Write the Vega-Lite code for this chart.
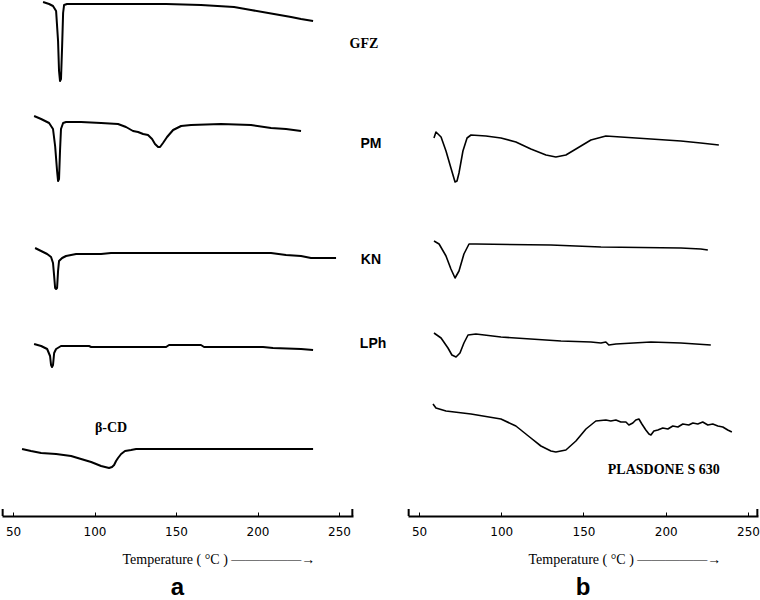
{
  "$schema": "https://vega.github.io/schema/vega-lite/v6.json",
  "background": "white",
  "padding": {"left": 1, "top": 0, "right": 0, "bottom": 0},
  "bounds": "flush",
  "spacing": 55,
  "config": {
    "view": {"stroke": null},
    "axisX": {
      "domainColor": "black", "domainWidth": 2,
      "tickColor": "black", "tickSize": -4, "tickWidth": 1,
      "labelFont": "DejaVu Sans", "labelFontSize": 12, "labelColor": "black", "labelPadding": 14,
      "grid": false,
      "titleFont": "Liberation Serif", "titleFontSize": 14, "titleFontWeight": "normal", "titleColor": "black",
      "titleAnchor": "start", "titleAlign": "left", "titleX": 120, "titleY": 47, "titleBaseline": "alphabetic"
    },
    "title": {"font": "Liberation Sans", "fontSize": 24, "fontWeight": "bold", "color": "black", "orient": "bottom", "anchor": "middle", "offset": 10}
  },
  "datasets": {
    "curves": [
      {"p":"a","s":"GFZ","T":68.4,"hf":514},{"p":"a","s":"GFZ","T":72.1,"hf":512},{"p":"a","s":"GFZ","T":74.5,"hf":510},{"p":"a","s":"GFZ","T":76.4,"hf":505},{"p":"a","s":"GFZ","T":77.6,"hf":475},{"p":"a","s":"GFZ","T":78.2,"hf":445},{"p":"a","s":"GFZ","T":78.8,"hf":435},{"p":"a","s":"GFZ","T":79.4,"hf":437},{"p":"a","s":"GFZ","T":80.1,"hf":470},{"p":"a","s":"GFZ","T":80.7,"hf":503},{"p":"a","s":"GFZ","T":81.3,"hf":511},{"p":"a","s":"GFZ","T":83.1,"hf":512},{"p":"a","s":"GFZ","T":104.0,"hf":512},{"p":"a","s":"GFZ","T":143.9,"hf":512},{"p":"a","s":"GFZ","T":165.3,"hf":511},{"p":"a","s":"GFZ","T":185.6,"hf":509},{"p":"a","s":"GFZ","T":196.0,"hf":506},{"p":"a","s":"GFZ","T":210.1,"hf":502},{"p":"a","s":"GFZ","T":220.6,"hf":499},{"p":"a","s":"GFZ","T":226.7,"hf":497},{"p":"a","s":"GFZ","T":234.1,"hf":495},

      {"p":"a","s":"PM","T":62.9,"hf":400},{"p":"a","s":"PM","T":67.2,"hf":397},{"p":"a","s":"PM","T":72.1,"hf":393},{"p":"a","s":"PM","T":74.5,"hf":387},{"p":"a","s":"PM","T":75.8,"hf":370},{"p":"a","s":"PM","T":77.0,"hf":345},{"p":"a","s":"PM","T":77.6,"hf":335},{"p":"a","s":"PM","T":78.2,"hf":337},{"p":"a","s":"PM","T":78.8,"hf":365},{"p":"a","s":"PM","T":79.4,"hf":387},{"p":"a","s":"PM","T":80.7,"hf":393},{"p":"a","s":"PM","T":82.5,"hf":394},{"p":"a","s":"PM","T":91.7,"hf":394},{"p":"a","s":"PM","T":104.0,"hf":393},{"p":"a","s":"PM","T":114.4,"hf":392},{"p":"a","s":"PM","T":119.3,"hf":389},{"p":"a","s":"PM","T":123.6,"hf":385},{"p":"a","s":"PM","T":126.7,"hf":384},{"p":"a","s":"PM","T":129.8,"hf":382},{"p":"a","s":"PM","T":132.8,"hf":381},{"p":"a","s":"PM","T":135.3,"hf":377},{"p":"a","s":"PM","T":137.1,"hf":372},{"p":"a","s":"PM","T":139.0,"hf":369},{"p":"a","s":"PM","T":140.2,"hf":369},{"p":"a","s":"PM","T":142.0,"hf":373},{"p":"a","s":"PM","T":144.5,"hf":379},{"p":"a","s":"PM","T":148.2,"hf":386},{"p":"a","s":"PM","T":153.1,"hf":390},{"p":"a","s":"PM","T":159.2,"hf":391},{"p":"a","s":"PM","T":177.6,"hf":392},{"p":"a","s":"PM","T":196.0,"hf":391},{"p":"a","s":"PM","T":208.3,"hf":388},{"p":"a","s":"PM","T":217.5,"hf":387},{"p":"a","s":"PM","T":226.7,"hf":385},

      {"p":"a","s":"KN","T":63.5,"hf":268},{"p":"a","s":"KN","T":67.2,"hf":265},{"p":"a","s":"KN","T":70.9,"hf":262},{"p":"a","s":"KN","T":73.3,"hf":259},{"p":"a","s":"KN","T":74.5,"hf":253},{"p":"a","s":"KN","T":75.2,"hf":240},{"p":"a","s":"KN","T":75.8,"hf":228},{"p":"a","s":"KN","T":76.4,"hf":227},{"p":"a","s":"KN","T":77.0,"hf":228},{"p":"a","s":"KN","T":77.6,"hf":245},{"p":"a","s":"KN","T":78.2,"hf":255},{"p":"a","s":"KN","T":80.1,"hf":258},{"p":"a","s":"KN","T":82.5,"hf":260},{"p":"a","s":"KN","T":88.7,"hf":262},{"p":"a","s":"KN","T":104.0,"hf":262},{"p":"a","s":"KN","T":110.1,"hf":263},{"p":"a","s":"KN","T":165.3,"hf":263},{"p":"a","s":"KN","T":208.3,"hf":263},{"p":"a","s":"KN","T":217.5,"hf":261},{"p":"a","s":"KN","T":226.7,"hf":260},{"p":"a","s":"KN","T":232.8,"hf":258},{"p":"a","s":"KN","T":248.2,"hf":258},

      {"p":"a","s":"LPh","T":62.9,"hf":172},{"p":"a","s":"LPh","T":67.2,"hf":170},{"p":"a","s":"LPh","T":70.9,"hf":167},{"p":"a","s":"LPh","T":72.7,"hf":160},{"p":"a","s":"LPh","T":73.3,"hf":151},{"p":"a","s":"LPh","T":73.9,"hf":149},{"p":"a","s":"LPh","T":74.5,"hf":151},{"p":"a","s":"LPh","T":75.2,"hf":163},{"p":"a","s":"LPh","T":76.4,"hf":167},{"p":"a","s":"LPh","T":79.4,"hf":170},{"p":"a","s":"LPh","T":96.6,"hf":170},{"p":"a","s":"LPh","T":97.9,"hf":169},{"p":"a","s":"LPh","T":143.9,"hf":169},{"p":"a","s":"LPh","T":145.7,"hf":171},{"p":"a","s":"LPh","T":165.3,"hf":171},{"p":"a","s":"LPh","T":167.2,"hf":169},{"p":"a","s":"LPh","T":203.4,"hf":169},{"p":"a","s":"LPh","T":209.5,"hf":168},{"p":"a","s":"LPh","T":226.7,"hf":167},{"p":"a","s":"LPh","T":234.1,"hf":166},

      {"p":"a","s":"β-CD","T":55.5,"hf":67},{"p":"a","s":"β-CD","T":61.0,"hf":65},{"p":"a","s":"β-CD","T":67.2,"hf":63},{"p":"a","s":"β-CD","T":76.4,"hf":62},{"p":"a","s":"β-CD","T":85.6,"hf":60},{"p":"a","s":"β-CD","T":91.7,"hf":57},{"p":"a","s":"β-CD","T":97.9,"hf":54},{"p":"a","s":"β-CD","T":104.0,"hf":50},{"p":"a","s":"β-CD","T":108.9,"hf":48},{"p":"a","s":"β-CD","T":110.7,"hf":49},{"p":"a","s":"β-CD","T":112.0,"hf":51},{"p":"a","s":"β-CD","T":113.2,"hf":55},{"p":"a","s":"β-CD","T":114.4,"hf":58},{"p":"a","s":"β-CD","T":116.3,"hf":62},{"p":"a","s":"β-CD","T":118.7,"hf":65},{"p":"a","s":"β-CD","T":122.4,"hf":66},{"p":"a","s":"β-CD","T":125.5,"hf":67},{"p":"a","s":"β-CD","T":165.3,"hf":67},{"p":"a","s":"β-CD","T":234.1,"hf":67},

      {"p":"b","s":"PM","T":59.1,"hf":378},{"p":"b","s":"PM","T":60.3,"hf":384},{"p":"b","s":"PM","T":63.4,"hf":379},{"p":"b","s":"PM","T":66.4,"hf":365},{"p":"b","s":"PM","T":69.4,"hf":348},{"p":"b","s":"PM","T":71.9,"hf":334},{"p":"b","s":"PM","T":73.1,"hf":335},{"p":"b","s":"PM","T":74.3,"hf":343},{"p":"b","s":"PM","T":76.7,"hf":365},{"p":"b","s":"PM","T":79.2,"hf":378},{"p":"b","s":"PM","T":81.6,"hf":381},{"p":"b","s":"PM","T":90.7,"hf":380},{"p":"b","s":"PM","T":99.8,"hf":378},{"p":"b","s":"PM","T":108.9,"hf":374},{"p":"b","s":"PM","T":118.0,"hf":367},{"p":"b","s":"PM","T":127.2,"hf":361},{"p":"b","s":"PM","T":133.2,"hf":359},{"p":"b","s":"PM","T":139.3,"hf":361},{"p":"b","s":"PM","T":145.4,"hf":367},{"p":"b","s":"PM","T":154.5,"hf":376},{"p":"b","s":"PM","T":163.6,"hf":380},{"p":"b","s":"PM","T":172.7,"hf":379},{"p":"b","s":"PM","T":191.0,"hf":377},{"p":"b","s":"PM","T":209.2,"hf":375},{"p":"b","s":"PM","T":221.3,"hf":373},{"p":"b","s":"PM","T":232.3,"hf":371},

      {"p":"b","s":"KN","T":59.1,"hf":275},{"p":"b","s":"KN","T":62.2,"hf":272},{"p":"b","s":"KN","T":66.4,"hf":260},{"p":"b","s":"KN","T":69.4,"hf":247},{"p":"b","s":"KN","T":71.9,"hf":238},{"p":"b","s":"KN","T":74.3,"hf":245},{"p":"b","s":"KN","T":77.3,"hf":262},{"p":"b","s":"KN","T":80.4,"hf":272},{"p":"b","s":"KN","T":84.6,"hf":272},{"p":"b","s":"KN","T":130.2,"hf":271},{"p":"b","s":"KN","T":160.6,"hf":269},{"p":"b","s":"KN","T":209.2,"hf":268},{"p":"b","s":"KN","T":221.3,"hf":267},{"p":"b","s":"KN","T":225.6,"hf":266},

      {"p":"b","s":"LPh","T":59.1,"hf":183},{"p":"b","s":"LPh","T":63.4,"hf":178},{"p":"b","s":"LPh","T":67.6,"hf":168},{"p":"b","s":"LPh","T":70.0,"hf":161},{"p":"b","s":"LPh","T":72.5,"hf":159},{"p":"b","s":"LPh","T":74.9,"hf":163},{"p":"b","s":"LPh","T":77.3,"hf":173},{"p":"b","s":"LPh","T":79.8,"hf":181},{"p":"b","s":"LPh","T":84.6,"hf":182},{"p":"b","s":"LPh","T":99.8,"hf":179},{"p":"b","s":"LPh","T":136.3,"hf":175},{"p":"b","s":"LPh","T":154.5,"hf":174},{"p":"b","s":"LPh","T":160.6,"hf":173},{"p":"b","s":"LPh","T":163.6,"hf":174},{"p":"b","s":"LPh","T":165.4,"hf":171},{"p":"b","s":"LPh","T":169.7,"hf":172},{"p":"b","s":"LPh","T":191.0,"hf":174},{"p":"b","s":"LPh","T":209.2,"hf":173},{"p":"b","s":"LPh","T":227.4,"hf":171},

      {"p":"b","s":"PLASDONE S 630","T":58.5,"hf":112},{"p":"b","s":"PLASDONE S 630","T":60.3,"hf":108},{"p":"b","s":"PLASDONE S 630","T":66.4,"hf":105},{"p":"b","s":"PLASDONE S 630","T":81.6,"hf":102},{"p":"b","s":"PLASDONE S 630","T":99.8,"hf":97},{"p":"b","s":"PLASDONE S 630","T":108.9,"hf":90},{"p":"b","s":"PLASDONE S 630","T":118.0,"hf":78},{"p":"b","s":"PLASDONE S 630","T":124.1,"hf":70},{"p":"b","s":"PLASDONE S 630","T":130.2,"hf":65},{"p":"b","s":"PLASDONE S 630","T":133.2,"hf":64},{"p":"b","s":"PLASDONE S 630","T":139.3,"hf":66},{"p":"b","s":"PLASDONE S 630","T":145.4,"hf":75},{"p":"b","s":"PLASDONE S 630","T":151.5,"hf":87},{"p":"b","s":"PLASDONE S 630","T":157.5,"hf":95},{"p":"b","s":"PLASDONE S 630","T":163.6,"hf":96},{"p":"b","s":"PLASDONE S 630","T":166.6,"hf":95},{"p":"b","s":"PLASDONE S 630","T":169.7,"hf":96},{"p":"b","s":"PLASDONE S 630","T":172.7,"hf":94},{"p":"b","s":"PLASDONE S 630","T":175.8,"hf":94},{"p":"b","s":"PLASDONE S 630","T":177.6,"hf":91},{"p":"b","s":"PLASDONE S 630","T":180.0,"hf":93},{"p":"b","s":"PLASDONE S 630","T":181.8,"hf":96},{"p":"b","s":"PLASDONE S 630","T":183.7,"hf":97},{"p":"b","s":"PLASDONE S 630","T":185.5,"hf":92},{"p":"b","s":"PLASDONE S 630","T":187.9,"hf":86},{"p":"b","s":"PLASDONE S 630","T":189.8,"hf":82},{"p":"b","s":"PLASDONE S 630","T":191.0,"hf":81},{"p":"b","s":"PLASDONE S 630","T":192.8,"hf":85},{"p":"b","s":"PLASDONE S 630","T":195.2,"hf":86},{"p":"b","s":"PLASDONE S 630","T":198.2,"hf":88},{"p":"b","s":"PLASDONE S 630","T":201.3,"hf":87},{"p":"b","s":"PLASDONE S 630","T":204.3,"hf":90},{"p":"b","s":"PLASDONE S 630","T":207.4,"hf":89},{"p":"b","s":"PLASDONE S 630","T":210.4,"hf":92},{"p":"b","s":"PLASDONE S 630","T":214.0,"hf":91},{"p":"b","s":"PLASDONE S 630","T":216.5,"hf":93},{"p":"b","s":"PLASDONE S 630","T":219.5,"hf":92},{"p":"b","s":"PLASDONE S 630","T":222.5,"hf":94},{"p":"b","s":"PLASDONE S 630","T":225.6,"hf":91},{"p":"b","s":"PLASDONE S 630","T":228.6,"hf":92},{"p":"b","s":"PLASDONE S 630","T":231.7,"hf":90},{"p":"b","s":"PLASDONE S 630","T":234.7,"hf":89},{"p":"b","s":"PLASDONE S 630","T":237.7,"hf":86},{"p":"b","s":"PLASDONE S 630","T":240.2,"hf":84}
    ],
    "labels": [
      {"p":"a","label":"GFZ","T":265.3,"hf":472},
      {"p":"a","label":"PM","T":269.6,"hf":372},
      {"p":"a","label":"KN","T":269.6,"hf":256},
      {"p":"a","label":"LPh","T":270.9,"hf":172},
      {"p":"a","label":"β-CD","T":110.1,"hf":88},
      {"p":"b","label":"PLASDONE S 630","T":198.8,"hf":46}
    ]
  },
  "hconcat": [
    {
      "width": 351, "height": 515,
      "title": {"text": "a"},
      "layer": [
        {
          "data": {"name": "curves"},
          "transform": [{"filter": "datum.p === 'a'"}],
          "mark": {"type": "line", "color": "black", "strokeWidth": 2, "strokeJoin": "round"},
          "encoding": {
            "x": {"field": "T", "type": "quantitative", "scale": {"domain": [43.2, 258.6], "nice": false, "zero": false},
                  "axis": {"values": [50, 100, 150, 200, 250], "title": "Temperature ( °C )   —————→"}},
            "y": {"field": "hf", "type": "quantitative", "scale": {"domain": [0, 515], "nice": false}, "axis": null},
            "detail": {"field": "s"}
          }
        },
        {
          "data": {"name": "labels"},
          "transform": [{"filter": "datum.p === 'a' && indexof(['GFZ','β-CD'], datum.label) >= 0"}],
          "mark": {"type": "text", "font": "Liberation Serif", "fontSize": 14, "fontWeight": "bold", "color": "black"},
          "encoding": {
            "x": {"field": "T", "type": "quantitative"},
            "y": {"field": "hf", "type": "quantitative"},
            "text": {"field": "label"}
          }
        },
        {
          "data": {"name": "labels"},
          "transform": [{"filter": "datum.p === 'a' && indexof(['PM','KN','LPh'], datum.label) >= 0"}],
          "mark": {"type": "text", "font": "Liberation Sans", "fontSize": 14, "fontWeight": "bold", "color": "black"},
          "encoding": {
            "x": {"field": "T", "type": "quantitative"},
            "y": {"field": "hf", "type": "quantitative"},
            "text": {"field": "label"}
          }
        },
        {
          "data": {"values": [{"T": 43.6}, {"T": 258.2}]},
          "mark": {"type": "rule", "color": "black", "strokeWidth": 2},
          "encoding": {
            "x": {"field": "T", "type": "quantitative"},
            "y": {"datum": 0},
            "y2": {"datum": 7}
          }
        }
      ]
    },
    {
      "width": 350, "height": 515,
      "title": {"text": "b"},
      "layer": [
        {
          "data": {"name": "curves"},
          "transform": [{"filter": "datum.p === 'b'"}],
          "mark": {"type": "line", "color": "black", "strokeJoin": "round"},
          "encoding": {
            "x": {"field": "T", "type": "quantitative", "scale": {"domain": [43.3, 256.1], "nice": false, "zero": false},
                  "axis": {"values": [50, 100, 150, 200, 250], "title": "Temperature ( °C )   —————→"}},
            "y": {"field": "hf", "type": "quantitative", "scale": {"domain": [0, 515], "nice": false}, "axis": null},
            "detail": {"field": "s"},
            "strokeWidth": {"field": "s", "type": "nominal", "scale": {"domain": ["PM", "KN", "LPh", "PLASDONE S 630"], "range": [1.6, 1.6, 1.6, 2.6]}, "legend": null}
          }
        },
        {
          "data": {"name": "labels"},
          "transform": [{"filter": "datum.p === 'b'"}],
          "mark": {"type": "text", "font": "Liberation Serif", "fontSize": 14, "fontWeight": "bold", "color": "black"},
          "encoding": {
            "x": {"field": "T", "type": "quantitative"},
            "y": {"field": "hf", "type": "quantitative"},
            "text": {"field": "label"}
          }
        },
        {
          "data": {"values": [{"T": 43.7}, {"T": 255.7}]},
          "mark": {"type": "rule", "color": "black", "strokeWidth": 2},
          "encoding": {
            "x": {"field": "T", "type": "quantitative"},
            "y": {"datum": 0},
            "y2": {"datum": 7}
          }
        }
      ]
    }
  ]
}
